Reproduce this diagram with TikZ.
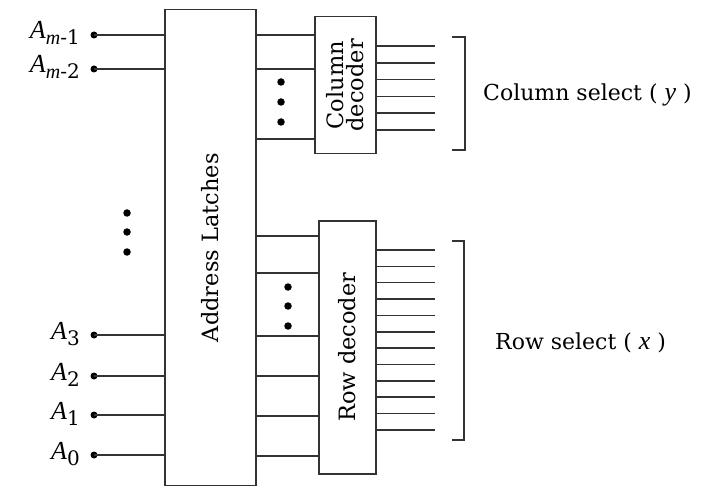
\documentclass[tikz,border=0pt]{standalone}
\usepackage{fontspec}
\setmainfont{DejaVu Serif}
\newfontfamily\itfam{Liberation Serif}
\newcommand\iv[1]{{\itfam\itshape #1}}
\newcommand\bigiv[1]{{\itfam\itshape\fontsize{26}{28}\selectfont #1}}
\newcommand\addrlab[1]{\iv{A}\raisebox{-6pt}{\fontsize{20}{21}\selectfont #1}}
\begin{document}
\begin{tikzpicture}[x=1pt,y=-1pt,
  wire/.style={line width=1.5pt, draw=black!80},
  blk/.style={draw=black!80, line width=1.5pt, fill=white, inner sep=0pt},
  pin/.style={circle, fill=black, inner sep=0pt, minimum size=7pt},
  vdot/.style={circle, fill=black, inner sep=0pt, minimum size=7.5pt},
  lbl/.style={font=\fontsize{26}{28}\selectfont, inner sep=0pt},
  inlbl/.style={font=\fontsize{22.5}{24}\selectfont, inner sep=0pt, rotate=90},
  sel/.style={font=\fontsize{22}{26}\selectfont, inner sep=0pt}]
\useasboundingbox (0,0) rectangle (711,486);
% blocks
\node[blk, anchor=north west, minimum width=91pt, minimum height=476pt] (lat) at (164,9) {};
\node[blk, anchor=north west, minimum width=61pt, minimum height=137pt] (col) at (314,16) {};
\node[blk, anchor=north west, minimum width=57pt, minimum height=253pt] (row) at (318,220) {};
\node[inlbl] (latt) at (lat.center) {Address Latches};
\node[inlbl, align=center] (colt) at (col.center) {Column\\[-4pt]decoder};
\node[inlbl] (rowt) at (row.center) {Row decoder};
% address inputs
\foreach \n/\y/\t in {am1/35/{\iv{m}-1}, am2/69/{\iv{m}-2}, a3/335/3, a2/376/2, a1/415/1, a0/455/0}{
  \node[pin] (\n) at (94,\y) {};
  \node[lbl, anchor=base east] (\n l) at ([xshift=-14pt,yshift=-4pt]\n.center) {\addrlab{\t}};
  \draw[wire] (\n.center) -- (\n.center -| lat.west);
}
\foreach \y [count=\i] in {213,232,252}{\node[vdot] (ld\i) at (127,\y) {};}
% latches to column decoder
\foreach \y [count=\i] in {35,69,139}{
  \coordinate (cl\i) at (255,\y);
  \draw[wire] (cl\i) -- (cl\i -| col.west);
}
\foreach \y [count=\i] in {82,102,122}{\node[vdot] (cd\i) at (281,\y) {};}
% latches to row decoder
\foreach \y [count=\i] in {236,273,336,376,416,456}{
  \coordinate (rl\i) at (255,\y);
  \draw[wire] (rl\i) -- (rl\i -| row.west);
}
\foreach \y [count=\i] in {287,306,326}{\node[vdot] (rd\i) at (288,\y) {};}
% column decoder outputs
\foreach \i in {0,...,5}{
  \coordinate (co\i) at (435,{46+\i*16.8});
  \draw[wire] (co\i -| col.east) -- (co\i);
}
% row decoder outputs
\foreach \i in {0,...,11}{
  \coordinate (ro\i) at (435,{250+\i*16.36});
  \draw[wire] (ro\i -| row.east) -- (ro\i);
}
% brackets
\draw[wire] (452,37) -- (465,37) -- (465,150) -- (452,150);
\draw[wire] (452,241) -- (464,241) -- (464,440) -- (452,440);
\node[sel, anchor=west] (cs) at (483,95) {Column select ( \bigiv{y} )};
\node[sel, anchor=west] (rs) at (495,343) {Row select ( \bigiv{x} )};
\end{tikzpicture}
\end{document}
